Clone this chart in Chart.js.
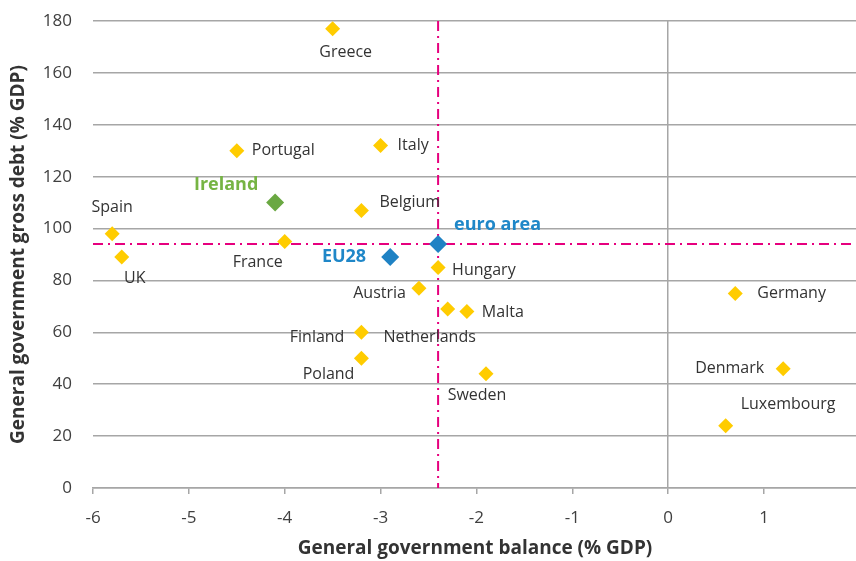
<!DOCTYPE html>
<html>
<head>
<meta charset="utf-8">
<script src="https://cdn.jsdelivr.net/npm/chart.js@4/dist/chart.umd.min.js"></script>
<style>
  html, body { margin: 0; padding: 0; background: #fff; }
  #wrap { width: 856px; height: 561px; overflow: hidden; }
</style>
</head>
<body>
<div id="wrap"><canvas id="myChart" width="866" height="561"></canvas></div>
<script>
// member states
var countries = ['Greece', 'Portugal', 'Italy', 'Belgium', 'Spain', 'France', 'UK', 'Hungary', 'Austria',
  'Netherlands', 'Malta', 'Germany', 'Finland', 'Poland', 'Sweden', 'Denmark', 'Luxembourg'];
var balance = [-3.5, -4.5, -3.0, -3.2, -5.8, -4.0, -5.7, -2.4, -2.6, -2.3, -2.1, 0.7, -3.2, -3.2, -1.9, 1.2, 0.6];
var debt = [177, 130, 132, 107, 98, 95, 89, 85, 77, 69, 68, 75, 60, 50, 44, 46, 24];

// Ireland
var irelandName = ['Ireland'];
var irelandBalance = [-4.1];
var irelandDebt = [110];

// aggregates
var aggregates = ['euro area', 'EU28'];
var aggBalance = [-2.4, -2.9];
var aggDebt = [94, 89];

// reference lines (euro area)
var refBalance = -2.4;
var refDebt = 94;

var xTicks = [-6, -5, -4, -3, -2, -1, 0, 1];

// label placement (pixels from the point)
var labelPos = {
  'Greece': [13, 24, 'center'], 'Portugal': [15, 0, 'left'], 'Italy': [17, 0, 'left'],
  'Belgium': [18, -8, 'left'], 'Spain': [0, -26, 'center'], 'France': [-27, 21, 'center'],
  'UK': [13, 21, 'center'], 'Hungary': [14, 3, 'left'], 'Austria': [-13, 5, 'right'],
  'Netherlands': [-18, 28, 'center'], 'Malta': [15, 1, 'left'], 'Germany': [22, 0, 'left'],
  'Finland': [-17, 5, 'right'], 'Poland': [-7, 16, 'right'], 'Sweden': [-9, 22, 'center'],
  'Denmark': [-19, 0, 'right'], 'Luxembourg': [15, -21, 'left'],
  'Ireland': [-49, -18, 'center'], 'euro area': [16, -19, 'left'], 'EU28': [-24, 0, 'right']
};

function pts(xs, ys) {
  return xs.map(function (x, i) { return { x: x, y: ys[i] }; });
}

var FONT = "'Open Sans', sans-serif";
var GRID = '#a6a6a6';
var PINK = '#e6007e';

var refLines = {
  id: 'refLines',
  beforeDatasetsDraw: function (chart) {
    var c = chart.ctx, a = chart.chartArea;
    var px = chart.scales.x.getPixelForValue(refBalance);
    var py = chart.scales.y.getPixelForValue(refDebt);
    c.save();
    c.strokeStyle = PINK;
    c.lineWidth = 2;
    c.setLineDash([10, 5, 2, 5]);
    c.beginPath();
    c.moveTo(px, a.top);
    c.lineTo(px, a.bottom);
    c.moveTo(a.left, py);
    c.lineTo(a.right, py);
    c.stroke();
    c.restore();
  }
};

var pointLabels = {
  id: 'pointLabels',
  afterDatasetsDraw: function (chart) {
    var c = chart.ctx;
    c.save();
    c.textBaseline = 'middle';
    chart.data.datasets.forEach(function (ds, di) {
      var meta = chart.getDatasetMeta(di);
      meta.data.forEach(function (el, i) {
        var name = ds.names[i];
        var p = labelPos[name];
        c.font = ds.labelFont;
        c.fillStyle = ds.labelColor;
        c.textAlign = p[2];
        c.fillText(name, el.x + p[0], el.y + p[1]);
      });
    });
    c.restore();
  }
};

var ctx = document.getElementById('myChart');
var myChart = new Chart(ctx, {
  type: 'scatter',
  data: {
    datasets: [{
      names: countries,
      data: pts(balance, debt),
      pointStyle: 'rectRot',
      pointRadius: 7.5,
      backgroundColor: '#ffcc00',
      borderColor: '#ffcc00',
      borderWidth: 0,
      labelFont: '16px ' + FONT,
      labelColor: '#333333'
    }, {
      names: irelandName,
      data: pts(irelandBalance, irelandDebt),
      pointStyle: 'rectRot',
      pointRadius: 9,
      backgroundColor: '#6aa842',
      borderColor: '#6aa842',
      borderWidth: 0,
      labelFont: 'bold 18px ' + FONT,
      labelColor: '#76b443'
    }, {
      names: aggregates,
      data: pts(aggBalance, aggDebt),
      pointStyle: 'rectRot',
      pointRadius: 9,
      backgroundColor: '#1f82c4',
      borderColor: '#1f82c4',
      borderWidth: 0,
      labelFont: 'bold 18px ' + FONT,
      labelColor: '#1f87c8'
    }]
  },
  options: {
    responsive: false,
    animation: false,
    layout: { padding: { top: 21, left: 0, right: 0, bottom: 0 } },
    plugins: { legend: { display: false }, tooltip: { enabled: false } },
    scales: {
      x: {
        type: 'linear',
        min: -6,
        max: 1.97,
        afterFit: function (s) { s.height = 73; s.paddingLeft = 0; s.paddingRight = 0; },
        afterBuildTicks: function (s) { s.ticks = xTicks.map(function (v) { return { value: v }; }); },
        border: { display: true, color: GRID, width: 1.5 },
        grid: {
          color: function (c) { return c.tick && c.tick.value === 0 ? GRID : 'rgba(0,0,0,0)'; },
          lineWidth: 1.5,
          tickColor: GRID,
          tickLength: 6
        },
        ticks: { color: '#404040', font: { family: FONT, size: 17 }, padding: 14 },
        title: {
          display: true,
          text: 'General government balance (% GDP)',
          color: '#333333',
          font: { family: FONT, size: 19, weight: 'bold' },
          padding: { top: 0, bottom: 1 }
        }
      },
      y: {
        min: 0,
        max: 180,
        afterFit: function (s) { s.width = 93; s.paddingTop = 0; s.paddingBottom = 0; },
        border: { display: false },
        grid: { color: GRID, lineWidth: 1.5, drawTicks: false },
        ticks: { stepSize: 20, color: '#404040', font: { family: FONT, size: 17 }, padding: 21 },
        title: {
          display: true,
          text: 'General government gross debt (% GDP)',
          color: '#333333',
          font: { family: FONT, size: 19, weight: 'bold' },
          padding: { top: 7, bottom: 0 }
        }
      }
    }
  },
  plugins: [refLines, pointLabels]
});
</script>
</body>
</html>
